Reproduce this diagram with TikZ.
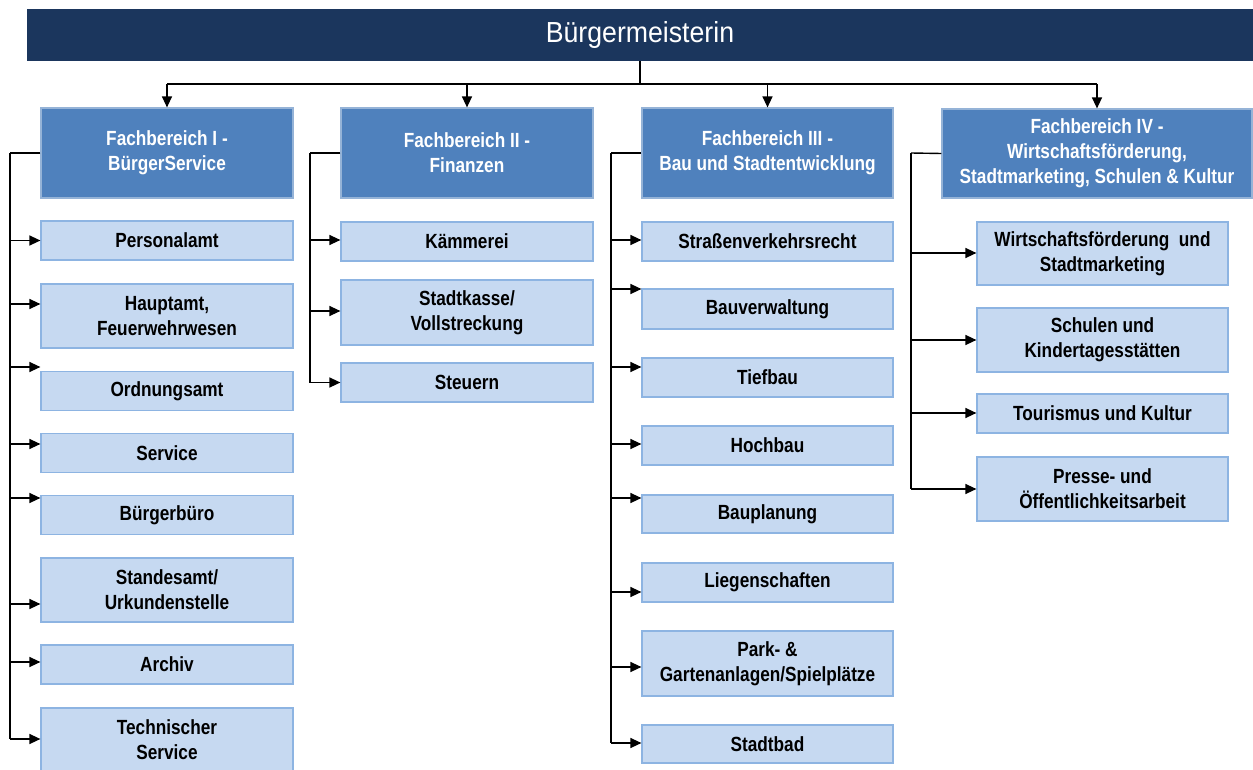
\documentclass[tikz,border=0pt]{standalone}
\usepackage{fontspec}
\usetikzlibrary{arrows.meta,calc}
\newfontfamily\narrowsans{Liberation Sans}[FakeStretch=0.84]
\newfontfamily\titlesans{Liberation Sans}[FakeStretch=0.92]
\definecolor{barblue}{RGB}{27,54,93}
\definecolor{fbfill}{RGB}{79,129,189}
\definecolor{fbline}{RGB}{149,179,215}
\definecolor{subfill}{RGB}{198,217,241}
\definecolor{subline}{RGB}{141,180,226}
\tikzset{
  boxtext/.style={font=\narrowsans\bfseries\fontsize{20.5}{25}\selectfont, align=center, inner sep=0pt},
  fbbox/.style={boxtext, draw=fbline, fill=fbfill, text=white, line width=1.2pt,
                minimum width=252pt, minimum height=90pt},
  subbox/.style={boxtext, draw=subline, fill=subfill, text=black, line width=1.2pt,
                 minimum width=252pt, minimum height=39pt},
  tall/.style={minimum height=64pt},
  link/.style={draw=black, line width=1.4pt},
  arr/.style={link, -{Triangle[length=11pt,width=10pt]}}
}
% arrow from trunk #1 to box #2, entering #3 units below its centre
\newcommand\feed[3]{%
  \coordinate (tip) at ($(#2.west)+(0,#3)$);
  \draw[arr] (#1 |- tip) -- (tip);}
\begin{document}
\begin{tikzpicture}[x=1pt,y=-1pt]
\useasboundingbox (0,0) rectangle (1253,770);

% head of the administration
\node[fill=barblue, text=white, minimum width=1226pt, minimum height=52pt, inner sep=0pt,
      font=\titlesans\fontsize{29}{34}\selectfont] (bm) at (640,35) {Bürgermeisterin};

% departments
\node[fbbox] (fb1) at (167,153) {Fachbereich I -\\BürgerService};
\node[fbbox] (fb2) at (467,153) {Fachbereich II -\\Finanzen};
\node[fbbox, minimum width=251pt] (fb3) at (767.5,153) {Fachbereich III -\\Bau und Stadtentwicklung};
\node[fbbox, minimum width=310pt, minimum height=89pt] (fb4) at (1097,153.5)
  {Fachbereich IV -\\Wirtschaftsförderung,\\Stadtmarketing, Schulen \& Kultur};

\coordinate (bus) at (640,84);
\draw[link] (bm.south) -- (bus);
\draw[link] (fb1.north |- bus) -- (fb4.north |- bus);
\foreach \f in {fb1,fb2,fb3,fb4} \draw[arr] (\f.north |- bus) -- (\f.north);

% Fachbereich I
\node[subbox] (a1) at (167,240.5) {Personalamt};
\node[subbox, tall] (a2) at (167,316) {Hauptamt,\\Feuerwehrwesen};
\node[subbox] (a3) at (167,391) {Ordnungsamt};
\node[subbox] (a4) at (167,453) {Service};
\node[subbox] (a5) at (167,515) {Bürgerbüro};
\node[subbox, tall] (a6) at (167,590) {Standesamt/\\Urkundenstelle};
\node[subbox] (a7) at (167,664.5) {Archiv};
\node[subbox, tall] (a8) at (167,740) {Technischer\\Service};

\coordinate (t1) at (10,153);
\draw[link] (fb1.west) -- (t1);
\feed{t1}{a1}{0}
\feed{t1}{a2}{-12}
\feed{t1}{a3}{-24}
\feed{t1}{a4}{-9}
\feed{t1}{a5}{-17}
\feed{t1}{a6}{14}
\feed{t1}{a7}{-2.5}
\feed{t1}{a8}{-1}
\draw[link] (t1) -- (t1 |- tip);

% Fachbereich II
\node[subbox] (b1) at (467,241.5) {Kämmerei};
\node[subbox, minimum height=65pt] (b2) at (467,312.5) {Stadtkasse/\\Vollstreckung};
\node[subbox] (b3) at (467,382.5) {Steuern};

\coordinate (t2) at (310,153);
\draw[link] (fb2.west) -- (t2);
\feed{t2}{b1}{-1.5}
\feed{t2}{b2}{-1.5}
\feed{t2}{b3}{0}
\draw[link] (t2) -- (t2 |- tip);

% Fachbereich III
\tikzset{sub3/.style={subbox, minimum width=251pt}}
\node[sub3] (c1) at (767.5,241.5) {Straßenverkehrsrecht};
\node[sub3, minimum height=40pt] (c2) at (767.5,309) {Bauverwaltung};
\node[sub3] (c3) at (767.5,377.5) {Tiefbau};
\node[sub3] (c4) at (767.5,445.5) {Hochbau};
\node[sub3, minimum height=38pt] (c5) at (767.5,514) {Bauplanung};
\node[sub3] (c6) at (767.5,582.5) {Liegenschaften};
\node[sub3, minimum height=65pt] (c7) at (767.5,663.5) {Park- \&\\Gartenanlagen/Spielplätze};
\node[sub3, minimum height=38pt] (c8) at (767.5,744) {Stadtbad};

\coordinate (t3) at (611,153);
\draw[link] (fb3.west) -- (t3);
\feed{t3}{c1}{-1.5}
\feed{t3}{c2}{-20}
\feed{t3}{c3}{-10.5}
\feed{t3}{c4}{-1.5}
\feed{t3}{c5}{-16}
\feed{t3}{c6}{9.5}
\feed{t3}{c7}{3.5}
\feed{t3}{c8}{-1}
\draw[link] (t3) -- (t3 |- tip);

% Fachbereich IV
\tikzset{sub4/.style={subbox, minimum width=251pt}}
\node[sub4, minimum height=63pt] (d1) at (1102.5,253.5) {Wirtschaftsförderung\ \ und\\Stadtmarketing};
\node[sub4, tall] (d2) at (1102.5,340) {Schulen und\\Kindertagesstätten};
\node[sub4] (d3) at (1102.5,413.5) {Tourismus und Kultur};
\node[sub4, tall] (d4) at (1102.5,489) {Presse- und\\Öffentlichkeitsarbeit};

\coordinate (t4) at (911,153);
\draw[link] (fb4.west) -- (t4);
\feed{t4}{d1}{-0.5}
\feed{t4}{d2}{0}
\feed{t4}{d3}{-0.5}
\feed{t4}{d4}{0}
\draw[link] (t4) -- (t4 |- tip);
\end{tikzpicture}
\end{document}
